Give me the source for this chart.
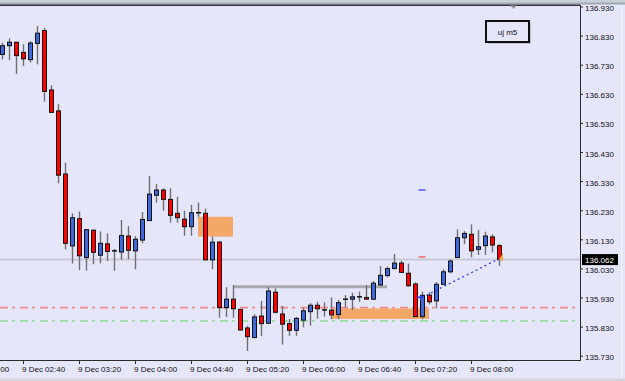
<!DOCTYPE html>
<html>
<head>
<meta charset="utf-8">
<script src="https://cdn.jsdelivr.net/npm/d3@7"></script>
<style>
  body { margin: 0; background: #e6e6fa; }
  svg { display: block; font-family: 'Liberation Sans', Arial, sans-serif; }
</style>
</head>
<body>
<div id="chart"></div>
<script>
// uj m5 candles, 9 Dec 02:25 .. 08:20 (5 min bars)
var opens = [136.767, 136.797, 136.809, 136.774, 136.749, 136.805, 136.849, 136.645, 136.573, 136.356,
  136.109, 136.203, 136.069, 136.163, 136.077, 136.116, 136.092, 136.088, 136.143, 136.092,
  136.129, 136.196, 136.283, 136.301, 136.269, 136.221, 136.201, 136.175, 136.223, 136.221,
  136.061, 136.122, 135.897, 135.926, 135.891, 135.827, 135.794, 135.868, 135.843, 135.950,
  135.875, 135.842, 135.819, 135.854, 135.883, 135.905, 135.889, 135.888, 135.873, 135.926,
  135.926, 135.934, 135.932, 135.926, 135.975, 136.007, 136.031, 136.050, 136.015, 135.978,
  135.866, 135.940, 135.920, 135.977, 136.020, 136.069, 136.137, 136.149, 136.097, 136.110,
  136.140, 136.110]
var highs = [136.807, 136.822, 136.810, 136.802, 136.813, 136.865, 136.858, 136.661, 136.596, 136.395,
  136.221, 136.227, 136.167, 136.165, 136.159, 136.152, 136.099, 136.198, 136.177, 136.143,
  136.225, 136.349, 136.322, 136.307, 136.307, 136.278, 136.230, 136.250, 136.258, 136.237,
  136.141, 136.126, 135.967, 135.975, 135.891, 135.834, 135.874, 135.920, 135.967, 135.963,
  135.903, 135.858, 135.865, 135.897, 135.912, 135.917, 135.915, 135.932, 135.923, 135.940,
  135.948, 135.952, 135.975, 135.988, 136.040, 136.038, 136.081, 136.058, 136.048, 135.984,
  135.952, 135.950, 135.985, 136.029, 136.063, 136.166, 136.160, 136.183, 136.164, 136.158,
  136.149, 136.115]
var lows = [136.750, 136.748, 136.700, 136.727, 136.739, 136.733, 136.605, 136.567, 136.324, 136.097,
  136.049, 136.026, 136.024, 136.046, 136.049, 136.057, 136.024, 136.061, 136.063, 136.029,
  136.118, 136.196, 136.258, 136.230, 136.189, 136.189, 136.144, 136.144, 136.209, 136.061,
  136.029, 135.862, 135.865, 135.862, 135.819, 135.748, 135.792, 135.800, 135.843, 135.877,
  135.770, 135.800, 135.800, 135.829, 135.835, 135.859, 135.866, 135.857, 135.857, 135.898,
  135.889, 135.917, 135.923, 135.923, 135.971, 136.001, 136.029, 136.018, 135.969, 135.866,
  135.857, 135.908, 135.895, 135.974, 136.015, 136.069, 136.115, 136.070, 136.078, 136.078,
  136.087, 136.041]
var closes = [136.797, 136.809, 136.763, 136.752, 136.806, 136.840, 136.640, 136.568, 136.352, 136.118,
  136.206, 136.075, 136.165, 136.087, 136.118, 136.090, 136.092, 136.145, 136.094, 136.132,
  136.200, 136.287, 136.301, 136.269, 136.214, 136.206, 136.175, 136.223, 136.223, 136.061,
  136.122, 135.897, 135.926, 135.893, 135.820, 135.797, 135.865, 135.842, 135.954, 135.881,
  135.840, 135.819, 135.860, 135.886, 135.905, 135.893, 135.889, 135.872, 135.914, 135.926,
  135.934, 135.934, 135.926, 135.981, 136.008, 136.031, 136.050, 136.018, 135.972, 135.866,
  135.939, 135.917, 135.977, 136.020, 136.057, 136.137, 136.152, 136.092, 136.106, 136.143,
  136.112, 136.062]

var priceTicks = [136.930, 136.830, 136.730, 136.630, 136.530, 136.430, 136.330, 136.230, 136.130, 136.030, 135.930, 135.830, 135.730]
var timeTicks = ['02:00', '02:40', '03:20', '04:00', '04:40', '05:20', '06:00', '06:40', '07:20', '08:00']

var bidPrice = 136.062
var redLevel = 135.897
var greenLevel = 135.851
var grayLevel = 135.969
// zones: [fromTime, toTime, topPrice, bottomPrice]
var zones = [
  ['04:45', '05:10', 136.209, 136.141],
  ['06:20', '07:30', 135.894, 135.858]
]
var trendLine = [['07:25', 135.932], ['08:20', 136.065]]

var width = 625
var height = 381

var parseTime = function (s) {
  var p = s.split(':')
  return new Date(2022, 11, 9, +p[0], +p[1])
}
var barTimes = d3.timeMinute.every(5).range(parseTime('02:25'), parseTime('08:25'))

var bars = barTimes.map(function (t, i) {
  return { time: t, open: opens[i], high: highs[i], low: lows[i], close: closes[i] }
})

var xScale = d3
  .scaleTime()
  .domain([parseTime('02:25'), parseTime('08:20')])
  .range([2, 499])

var yScale = d3
  .scaleLinear()
  .domain([135.730, 136.930])
  .range([356.2, 7])

var svg = d3
  .select('#chart')
  .append('svg')
  .attr('width', width)
  .attr('height', height)

svg.append('rect').attr('width', width).attr('height', height).attr('fill', '#e6e6fa')

var plot = svg.append('g')
plot.append('clipPath').attr('id', 'clip')
  .append('rect').attr('x', 0).attr('y', 6).attr('width', 580).attr('height', 354)
var inner = plot.append('g').attr('clip-path', 'url(#clip)')

// bid line
inner.append('line')
  .attr('x1', 0).attr('x2', 580)
  .attr('y1', yScale(bidPrice)).attr('y2', yScale(bidPrice))
  .attr('stroke', '#c9c9d6').attr('stroke-width', 2)

// zones
inner.selectAll('.zone')
  .data(zones)
  .enter()
  .append('rect')
  .attr('class', 'zone')
  .attr('x', d => xScale(parseTime(d[0])))
  .attr('width', d => xScale(parseTime(d[1])) - xScale(parseTime(d[0])))
  .attr('y', d => yScale(d[2]))
  .attr('height', d => yScale(d[3]) - yScale(d[2]))
  .attr('fill', '#f4a460')
  .attr('opacity', 0.95)

// dash-dot levels
inner.append('line')
  .attr('x1', 0).attr('x2', 580)
  .attr('y1', yScale(redLevel)).attr('y2', yScale(redLevel))
  .attr('stroke', '#f08c8c').attr('stroke-width', 1.7)
  .attr('stroke-dasharray', '8,4,3,5')
inner.append('line')
  .attr('x1', 0).attr('x2', 580)
  .attr('y1', yScale(greenLevel)).attr('y2', yScale(greenLevel))
  .attr('stroke', '#8fdc8f').attr('stroke-width', 1.7)
  .attr('stroke-dasharray', '8,4,3,5')

// gray level
inner.append('line')
  .attr('x1', xScale(parseTime('05:10'))).attr('x2', xScale(parseTime('06:55')) + 7)
  .attr('y1', yScale(grayLevel)).attr('y2', yScale(grayLevel))
  .attr('stroke', '#a9a9ae').attr('stroke-width', 3)

// candles
var candles = inner.selectAll('.candle')
  .data(bars)
  .enter()
  .append('g')
  .attr('class', 'candle')
  .attr('transform', d => 'translate(' + Math.round(xScale(d.time)) + ',0)')

candles.append('line')
  .attr('x1', 0.5).attr('x2', 0.5)
  .attr('y1', d => yScale(d.high))
  .attr('y2', d => yScale(d.low))
  .attr('stroke', '#6e6e6e')
  .attr('stroke-width', 1.4)

candles.filter(d => Math.abs(d.close - d.open) >= 0.002)
  .append('rect')
  .attr('x', -1.5)
  .attr('width', 4)
  .attr('y', d => yScale(Math.max(d.open, d.close)))
  .attr('height', d => Math.abs(yScale(d.open) - yScale(d.close)))
  .attr('fill', d => d.close > d.open ? '#3f68dc' : '#ff0000')
  .attr('stroke', '#111')
  .attr('stroke-width', 1)

candles.filter(d => Math.abs(d.close - d.open) < 0.002)
  .append('line')
  .attr('x1', -2).attr('x2', 3)
  .attr('y1', d => yScale(d.close))
  .attr('y2', d => yScale(d.close))
  .attr('stroke', '#111')
  .attr('stroke-width', 1.5)

// dashes over bar 07:25
var markX = xScale(parseTime('07:25'))
inner.append('line')
  .attr('x1', markX - 3.5).attr('x2', markX + 3.5)
  .attr('y1', yScale(136.301)).attr('y2', yScale(136.301))
  .attr('stroke', '#6e6ef5').attr('stroke-width', 1.8)
inner.append('line')
  .attr('x1', markX - 3.5).attr('x2', markX + 3.5)
  .attr('y1', yScale(136.071)).attr('y2', yScale(136.071))
  .attr('stroke', '#f06464').attr('stroke-width', 1.5)

// dotted trend line
inner.append('line')
  .attr('x1', xScale(parseTime(trendLine[0][0])))
  .attr('y1', yScale(trendLine[0][1]))
  .attr('x2', xScale(parseTime(trendLine[1][0])))
  .attr('y2', yScale(trendLine[1][1]))
  .attr('stroke', '#2f3cf0').attr('stroke-width', 1.3)
  .attr('stroke-dasharray', '2,3')

// arrow at start of trend line
var ax = xScale(parseTime(trendLine[0][0]))
var ay = yScale(trendLine[0][1])
inner.append('path')
  .attr('d', 'M' + (ax - 5) + ',' + (ay - 0.8) + 'h3v-2l3,2.8l-3,2.8v-2h-3z')
  .attr('fill', '#2f3cf0')

// orange marker at end
var ex = xScale(parseTime(trendLine[1][0]))
var ey = yScale(trendLine[1][1])
inner.append('path')
  .attr('d', 'M' + (ex + 4) + ',' + (ey - 6) + 'L' + (ex + 4) + ',' + (ey + 2) + 'L' + ex + ',' + (ey + 1) + 'z')
  .attr('fill', '#f0b040')

// axes
svg.append('line')
  .attr('x1', 580.5).attr('x2', 580.5).attr('y1', 5).attr('y2', 361)
  .attr('stroke', '#2a2a2a').attr('stroke-width', 1)
svg.append('line')
  .attr('x1', 0).attr('x2', 581).attr('y1', 360.5).attr('y2', 360.5)
  .attr('stroke', '#2a2a2a').attr('stroke-width', 1)

var yTicks = svg.selectAll('.ytick')
  .data(priceTicks)
  .enter()
  .append('g')
  .attr('class', 'ytick')
  .attr('transform', d => 'translate(580,' + yScale(d) + ')')
yTicks.append('line').attr('x1', 0).attr('x2', 3).attr('stroke', '#2a2a2a')
yTicks.append('text')
  .attr('x', 5)
  .attr('y', 4)
  .attr('font-size', 8)
  .attr('fill', '#111')
  .text(d => d.toFixed(3))

var fmt = d3.timeFormat('%-d %b %H:%M')
var xTicks = svg.selectAll('.xtick')
  .data(timeTicks)
  .enter()
  .append('g')
  .attr('class', 'xtick')
  .attr('transform', d => 'translate(' + Math.round(xScale(parseTime(d))) + ',360)')
xTicks.append('line').attr('x1', 0.5).attr('x2', 0.5).attr('y1', 0).attr('y2', 4).attr('stroke', '#2a2a2a')
xTicks.append('text')
  .attr('x', -1)
  .attr('y', 11.5)
  .attr('font-size', 8)
  .attr('fill', '#111')
  .text(d => fmt(parseTime(d)))

// current price label
var by = yScale(bidPrice)
svg.append('rect')
  .attr('x', 582).attr('y', by - 5.5).attr('width', 36).attr('height', 11)
  .attr('fill', '#000')
svg.append('text')
  .attr('x', 585).attr('y', by + 3)
  .attr('font-size', 8)
  .attr('fill', '#fff')
  .text(bidPrice.toFixed(3))

// window chrome
svg.append('rect').attr('x', 0).attr('y', 0).attr('width', width).attr('height', 2.5).attr('fill', '#c8d0d8')
svg.append('rect').attr('x', 0).attr('y', 2.5).attr('width', width).attr('height', 2).attr('fill', '#9ea6ae')
svg.append('line').attr('x1', 0).attr('x2', 580).attr('y1', 5.2).attr('y2', 5.2)
  .attr('stroke', '#2e2e36').attr('stroke-width', 1.5)
svg.append('path').attr('d', 'M510,5.5L517,5.5L513.5,9z').attr('fill', '#9a9aa2')
svg.append('rect').attr('x', 0).attr('y', 378.5).attr('width', width).attr('height', 3).attr('fill', '#d4d4dc')
svg.append('line').attr('x1', 621.5).attr('x2', 621.5).attr('y1', 5).attr('y2', 378)
  .attr('stroke', '#f4f4fc').attr('stroke-width', 1)

// label box
svg.append('rect')
  .attr('x', 488).attr('y', 23).attr('width', 43).attr('height', 21)
  .attr('fill', '#bcbcc8')
svg.append('rect')
  .attr('x', 486).attr('y', 21).attr('width', 43).attr('height', 21)
  .attr('fill', '#e6e6fa').attr('stroke', '#111').attr('stroke-width', 2)
svg.append('text')
  .attr('x', 507.5).attr('y', 35)
  .attr('text-anchor', 'middle')
  .attr('font-size', 8)
  .attr('fill', '#111')
  .text('uj m5')
</script>
</body>
</html>
